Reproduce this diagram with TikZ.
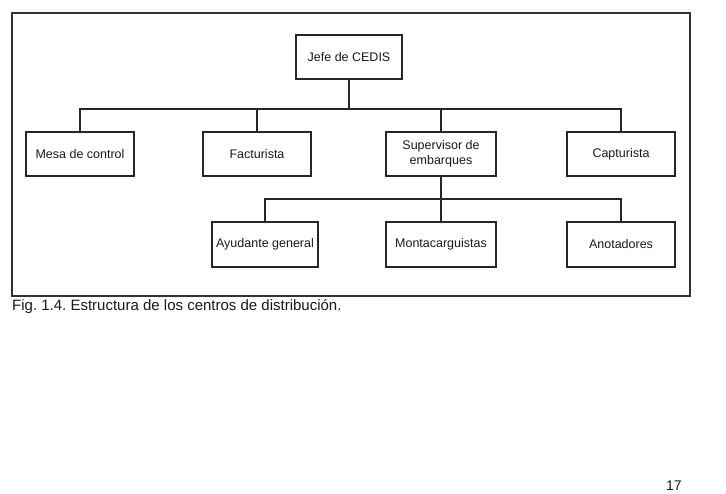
\documentclass[tikz,border=0pt]{standalone}
\usepackage{fontspec}
\setmainfont{Liberation Sans}
\frenchspacing
\begin{document}
\begin{tikzpicture}[
  x=1pt, y=-1pt,
  puesto/.style={rectangle, draw=black!85, line width=1.2pt, text=black!90,
    minimum width=108pt, minimum height=44pt, align=center, inner sep=2pt,
    font=\fontsize{12.5}{15}\selectfont},
  link/.style={draw=black!85, line width=1.2pt},
  marco/.style={draw=black!80, line width=1.3pt}
]
\useasboundingbox (0,0) rectangle (726,494);

% frame
\draw[marco] (12,13) rectangle (690,296);

% nodes
\node[puesto, minimum width=106pt] (jefe) at (349,57) {Jefe de CEDIS};
\node[puesto] (mesa) at (80,154) {Mesa de control};
\node[puesto] (fact) at (257,154) {Facturista};
\node[puesto, minimum width=110pt] (super) at (441,154) {Supervisor de\\embarques};
\node[puesto] (captur) at (621,154) {Capturista};
\node[puesto, minimum width=106pt, minimum height=45pt] (ayud) at (265,244.5) {Ayudante general};
\node[puesto, minimum width=110pt, minimum height=45pt] (monta) at (441,244.5) {Montacarguistas};
\node[puesto, minimum height=45pt] (anot) at (621,244.5) {Anotadores};

% branch points
\coordinate (bus1) at (349,109);
\coordinate (bus2) at (441,199);

% edges
\draw[link] (jefe) -- (bus1);
\foreach \n in {mesa,fact,super,captur}
  \draw[link] (bus1) -| (\n.north);
\draw[link] (super) -- (bus2);
\foreach \n in {ayud,monta,anot}
  \draw[link] (bus2) -| (\n.north);

% caption and page number
\node[anchor=base west, inner sep=0pt, text=black!90, font=\fontsize{15}{17}\selectfont] (pie) at (12,311)
  {Fig. 1.4. Estructura de los centros de distribución.};
\node[anchor=south west, inner sep=0pt, text=black!90, font=\fontsize{14}{16}\selectfont] (pagina) at (666,491) {17};

\end{tikzpicture}
\end{document}
